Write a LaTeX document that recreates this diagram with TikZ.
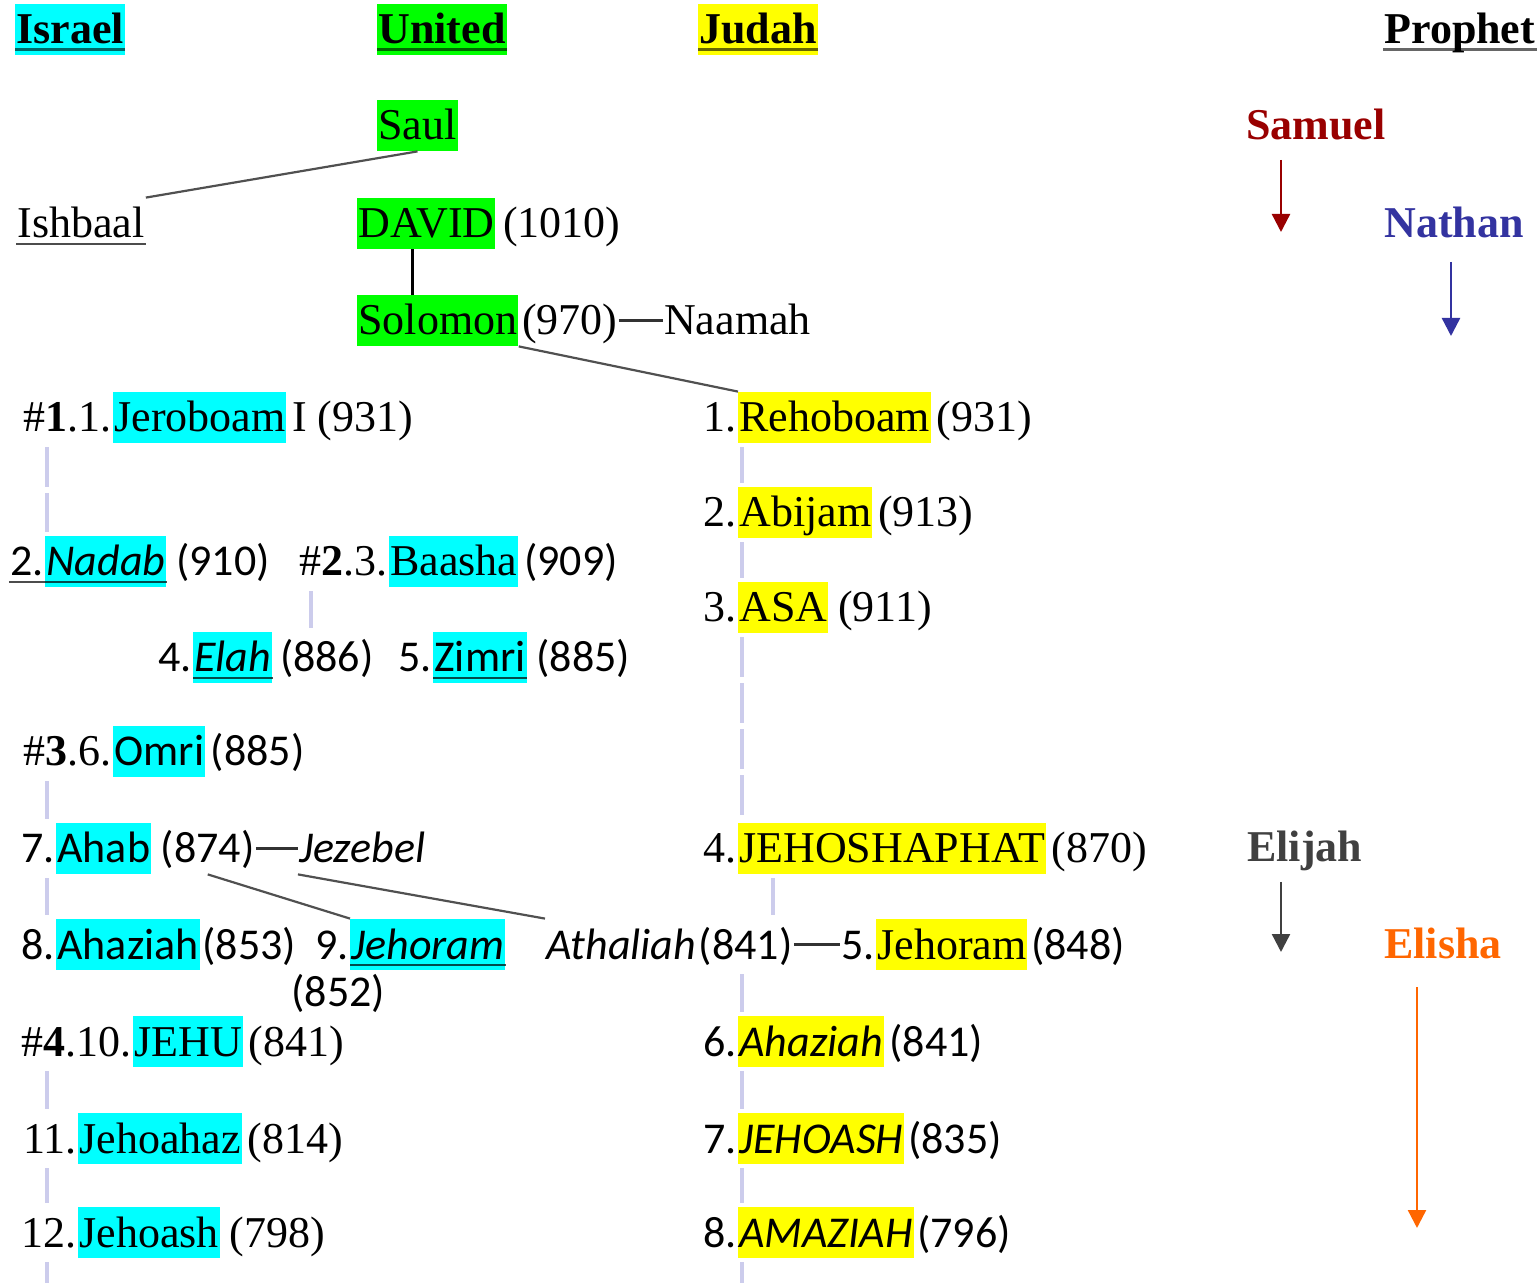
\documentclass[tikz,border=0pt]{standalone}
\usepackage{fontspec}
\setmainfont{Liberation Serif}
\newfontfamily\calibriSub{Carlito}
\usepackage{xcolor}
\usetikzlibrary{positioning}
\usetikzlibrary{arrows.meta}
\definecolor{israelColor}{RGB}{0,255,255}
\definecolor{unitedColor}{RGB}{0,255,0}
\definecolor{judahColor}{RGB}{255,255,0}
\definecolor{samuelColor}{RGB}{153,0,0}
\definecolor{nathanColor}{RGB}{51,51,160}
\definecolor{elijahColor}{RGB}{64,64,64}
\definecolor{elishaColor}{RGB}{255,102,0}
\definecolor{succColor}{RGB}{204,204,236}
\definecolor{linkColor}{RGB}{80,80,80}
\definecolor{wedColor}{RGB}{50,50,50}
\newcommand\bigsz{\fontsize{22}{26}\selectfont}

\begin{document}
\begin{tikzpicture}[x=0.5pt,y=-0.5pt,
  txt/.style={inner xsep=0.5pt, inner ysep=0pt, text height=20pt, text depth=5.5pt, anchor=base west, font=\bigsz},
  hdr/.style={font=\bigsz\bfseries},
  sans/.style={font=\bigsz\calibriSub},
  sansit/.style={font=\bigsz\calibriSub\itshape},
  isr/.style={fill=israelColor},
  uni/.style={fill=unitedColor},
  jud/.style={fill=judahColor},
  succ/.style={draw=succColor, line width=2pt, dash pattern=on 20pt off 3pt, shorten <=2pt, shorten >=2pt},
  link/.style={draw=linkColor, line width=1.1pt},
  wed/.style={draw=wedColor, line width=1.2pt},
  call/.style={line width=1.2pt, -{Triangle[length=9pt,width=9pt]}},
  ulHead/.style={draw=black, opacity=0.6, line width=1.5pt},
  ulName/.style={draw=black, opacity=0.7, line width=1pt},
]
\useasboundingbox (0,0) rectangle (1539,1283);

% column heads
\node [txt,hdr,isr] (israel) at (15,44) {Israel};
\node [txt,hdr,uni] (united) at (377,44) {United};
\node [txt,hdr,jud] (judah) at (698,44) {Judah};
\node [txt,hdr] (prophet) at (1383,44) {Prophet};

% united kingdom
\node [txt,uni] (saul) at (377,140) {Saul};
\node [txt] (ishbaal) at (16,238) {Ishbaal};
\node [txt,uni] (david) at (357,238) {DAVID};
\node [txt,right=3pt of david] (davidYr) {(1010)};
\node [txt,uni] (solomon) at (357,335) {Solomon};
\node [txt,right=1pt of solomon] (solomonYr) {(970)};
\node [txt,right=22pt of solomonYr] (naamah) {Naamah};

% israel
\node [txt,isr] (jeroboam) at (113,432) {Jeroboam};
\node [txt,left=0pt of jeroboam] (jeroboamNo) {\#\textbf{1}.1.};
\node [txt,right=2pt of jeroboam] (jeroboamYr) {I (931)};
\node [txt,sansit,isr] (nadab) at (45,576) {Nadab};
\node [txt,sans,left=0pt of nadab] (nadabNo) {2.};
\node [txt,sans,right=4pt of nadab] (nadabYr) {(910)};
\node [txt,isr] (baasha) at (389,576) {Baasha};
\node [txt,left=0pt of baasha] (baashaNo) {\#\textbf{2}.3.};
\node [txt,sans,right=2pt of baasha] (baashaYr) {(909)};
\node [txt,sansit,isr] (elah) at (193,672) {Elah};
\node [txt,sans,left=0pt of elah] (elahNo) {4.};
\node [txt,sans,right=3pt of elah] (elahYr) {(886)};
\node [txt,sans,isr] (zimri) at (433,672) {Zimri};
\node [txt,sans,left=0pt of zimri] (zimriNo) {5.};
\node [txt,sans,right=4pt of zimri] (zimriYr) {(885)};
\node [txt,sans,isr] (omri) at (113,766) {Omri};
\node [txt,left=0pt of omri] (omriNo) {\#\textbf{3}.6.};
\node [txt,sans,right=2pt of omri] (omriYr) {(885)};
\node [txt,sans,isr] (ahab) at (56,863) {Ahab};
\node [txt,sans,left=0pt of ahab] (ahabNo) {7.};
\node [txt,sans,right=4pt of ahab] (ahabYr) {(874)};
\node [txt,sansit,right=21pt of ahabYr] (jezebel) {Jezebel};
\node [txt,sans,isr] (ahaziahI) at (56,959) {Ahaziah};
\node [txt,sans,left=0pt of ahaziahI] (ahaziahINo) {8.};
\node [txt,sans,right=0.5pt of ahaziahI] (ahaziahIYr) {(853)};
\node [txt,sansit,isr] (jehoramI) at (350,959) {Jehoram};
\node [txt,sans,left=0pt of jehoramI] (jehoramINo) {9.};
\node [txt,sans] (jehoramIYr) at (290,1007) {(852)};
\node [txt,isr] (jehu) at (133,1056) {JEHU};
\node [txt,left=0pt of jehu] (jehuNo) {\#\textbf{4}.10.};
\node [txt,right=2pt of jehu] (jehuYr) {(841)};
\node [txt,isr] (jehoahaz) at (78,1153) {Jehoahaz};
\node [txt,left=0pt of jehoahaz] (jehoahazNo) {11.};
\node [txt,right=2pt of jehoahaz] (jehoahazYr) {(814)};
\node [txt,isr] (jehoashI) at (78,1247) {Jehoash};
\node [txt,left=0pt of jehoashI] (jehoashINo) {12.};
\node [txt,right=4pt of jehoashI] (jehoashIYr) {(798)};

% judah
\node [txt,jud] (rehoboam) at (738,432) {Rehoboam};
\node [txt,left=0pt of rehoboam] (rehoboamNo) {1.};
\node [txt,right=2pt of rehoboam] (rehoboamYr) {(931)};
\node [txt,jud] (abijam) at (738,527) {Abijam};
\node [txt,left=0pt of abijam] (abijamNo) {2.};
\node [txt,right=2pt of abijam] (abijamYr) {(913)};
\node [txt,jud] (asa) at (738,622) {ASA};
\node [txt,left=0pt of asa] (asaNo) {3.};
\node [txt,right=4pt of asa] (asaYr) {(911)};
\node [txt,jud] (jehoshaphat) at (738,863) {JEHOSHAPHAT};
\node [txt,left=0pt of jehoshaphat] (jehoshaphatNo) {4.};
\node [txt,right=2pt of jehoshaphat] (jehoshaphatYr) {(870)};
\node [txt,sansit] (athaliah) at (545,959) {Athaliah};
\node [txt,sans,right=0pt of athaliah] (athaliahYr) {(841)};
\node [txt,jud] (jehoramJ) at (876,959) {Jehoram};
\node [txt,sans,left=0pt of jehoramJ] (jehoramJNo) {5.};
\node [txt,sans,right=1pt of jehoramJ] (jehoramJYr) {(848)};
\node [txt,sansit,jud] (ahaziahJ) at (738,1056) {Ahaziah};
\node [txt,sans,left=0pt of ahaziahJ] (ahaziahJNo) {6.};
\node [txt,sans,right=2pt of ahaziahJ] (ahaziahJYr) {(841)};
\node [txt,sansit,jud] (jehoashJ) at (738,1153) {JEHOASH};
\node [txt,sans,left=0pt of jehoashJ] (jehoashJNo) {7.};
\node [txt,sans,right=1pt of jehoashJ] (jehoashJYr) {(835)};
\node [txt,sansit,jud] (amaziah) at (738,1247) {AMAZIAH};
\node [txt,sans,left=0pt of amaziah] (amaziahNo) {8.};
\node [txt,sans,right=1pt of amaziah] (amaziahYr) {(796)};

% prophets
\node [txt,hdr,text=samuelColor] (samuel) at (1245,140) {Samuel};
\node [txt,hdr,text=nathanColor] (nathan) at (1383,238) {Nathan};
\node [txt,hdr,text=elijahColor] (elijah) at (1246,862) {Elijah};
\node [txt,hdr,text=elishaColor] (elisha) at (1383,958) {Elisha};
\coordinate (samuelFrom) at (1281,160);
\coordinate (samuelTo) at (1281,232);
\coordinate (nathanFrom) at (1451,262);
\coordinate (nathanTo) at (1451,336);
\coordinate (elijahFrom) at (1281,882);
\coordinate (elijahTo) at (1281,952);
\coordinate (elishaFrom) at (1417,987);
\coordinate (elishaTo) at (1417,1228);
\draw [call,samuelColor] (samuelFrom) -- (samuelTo);
\draw [call,nathanColor] (nathanFrom) -- (nathanTo);
\draw [call,elijahColor] (elijahFrom) -- (elijahTo);
\draw [call,elishaColor] (elishaFrom) -- (elishaTo);

% family links
\coordinate (davidFoot) at ([xshift=-7pt]david.south);
\draw [link] (saul.south) -- (ishbaal.north east);
\draw [link,black] (davidFoot) -- (davidFoot |- solomon.north);
\draw [link] (solomon.south east) -- (rehoboam.north west);
\draw [link] (ahabYr.south) -- (jehoramINo.north east);
\draw [link] (jezebel.south west) -- (athaliah.north west);
\draw [wed] (solomonYr) -- (naamah);
\draw [wed] (ahabYr) -- (jezebel);
\draw [wed] (athaliahYr) -- (jehoramJNo);

% succession
\coordinate (isrAxis) at (47,0);
\coordinate (baashaAxis) at (311,0);
\coordinate (judAxis) at (742,0);
\coordinate (jehoshAxis) at (773,0);
\coordinate (pageFoot) at (0,1283);
\foreach \a/\b in {jeroboam/nadab,omri/ahab,ahab/ahaziahI,jehu/jehoahaz,jehoahaz/jehoashI}
  \draw [succ] (\a.south -| isrAxis) -- (\b.north -| isrAxis);
\foreach \a/\b in {rehoboam/abijam,abijam/asa,asa/jehoshaphat,jehoramJ/ahaziahJ,ahaziahJ/jehoashJ,jehoashJ/amaziah}
  \draw [succ] (\a.south -| judAxis) -- (\b.north -| judAxis);
\draw [succ] (baasha.south -| baashaAxis) -- (elah.north -| baashaAxis);
\draw [succ] (jehoshaphat.south -| jehoshAxis) -- (jehoramJ.north -| jehoshAxis);
\draw [succ,shorten >=0pt] (jehoashI.south -| isrAxis) -- (pageFoot -| isrAxis);
\draw [succ,shorten >=0pt] (amaziah.south -| judAxis) -- (pageFoot -| judAxis);

% underlines
\foreach \n in {israel,united,judah,prophet}
  \draw [ulHead] ([yshift=-3pt]\n.base west) -- ([yshift=-3pt]\n.base east);
\foreach \a/\b in {ishbaal/ishbaal,nadabNo/nadab,elah/elah,zimri/zimri,jehoramI/jehoramI}
  \draw [ulName] ([yshift=-3pt]\a.base west) -- ([yshift=-3pt]\b.base east);
\end{tikzpicture}
\end{document}
